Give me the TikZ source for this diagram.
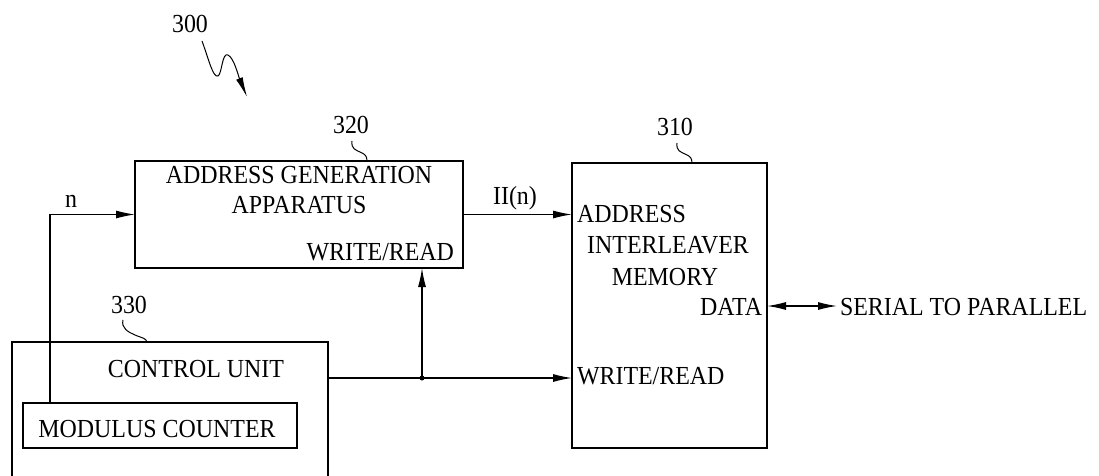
\documentclass[tikz,border=0pt]{standalone}
\usepackage{fontspec}
\setmainfont[FakeStretch=0.92]{Liberation Serif}
\usetikzlibrary{arrows.meta}

\tikzset{
  blk/.style={draw, line width=1.2pt, rectangle, inner sep=0pt, outer sep=0pt, anchor=north west},
  txt/.style={inner sep=0pt, outer sep=0pt, font=\fontsize{26}{30}\selectfont},
  wire/.style={line width=1.2pt},
  arr/.style={wire, -{Latex[length=19pt,width=8pt]}},
  dblarr/.style={wire, {Latex[length=19pt,width=8pt]}-{Latex[length=19pt,width=8pt]}},
  leader/.style={line width=1pt},
}

\begin{document}
\begin{tikzpicture}[x=1pt, y=-1pt]
\useasboundingbox (0,0) rectangle (1099,475);

% blocks
\node[blk, minimum width=328pt, minimum height=107pt] (agen) at (135,161) {};
\node[blk, minimum width=195pt, minimum height=285pt] (mem) at (572,163) {};
\node[blk, minimum width=316pt, minimum height=160pt] (ctrl) at (12,342) {};
\node[blk, minimum width=274pt, minimum height=45pt] (mod) at (23,403) {};

% block texts
\node[txt, anchor=base] (agen1) at (299,183) {ADDRESS GENERATION};
\node[txt, anchor=base] (agen2) at (299,213) {APPARATUS};
\node[txt, anchor=base east] (agenwr) at (454,260) {WRITE/READ};

\node[txt, anchor=base west] (memad) at (577,222) {ADDRESS};
\node[txt, anchor=base] (mem2) at (668,253) {INTERLEAVER};
\node[txt, anchor=base] (mem3) at (665,285) {MEMORY};
\node[txt, anchor=base east] (memdata) at (762,315) {DATA};
\node[txt, anchor=base west] (memwr) at (577,384) {WRITE/READ};

\node[txt, anchor=base] (ctrltxt) at (196,377) {CONTROL UNIT};
\node[txt, anchor=base] (modtxt) at (157,437) {MODULUS COUNTER};

% signal labels
\node[txt, anchor=base] (nlab) at (71,207) {n};
\node[txt, anchor=base] (pilab) at (515,204) {II(n)};
\node[txt, anchor=base west, inner xsep=3pt] (s2p) at (837,315) {SERIAL TO PARALLEL};

% reference numerals
\node[txt, anchor=base] (r300) at (190,32) {300};
\node[txt, anchor=base] (r320) at (351,133) {320};
\node[txt, anchor=base] (r310) at (675,135) {310};
\node[txt, anchor=base] (r330) at (129,313) {330};

% connectors
\coordinate (nleft) at (50,214.5);
\coordinate (j) at (422,378);
\coordinate (dy) at (0,306);

\draw[arr] (mod.north -| nleft) -- (nleft) -- (agen.west);
\draw[arr] (agen.east) -- (agen.east -| mem.west);
\draw[arr] (ctrl.east |- j) -- (mem.west |- j);
\draw[arr] (j) -- (agen.south -| j);
\fill (j) circle (2.5pt);
\draw[dblarr] (mem.east |- dy) -- (s2p.west |- dy);

% leader lines of the numerals
\draw[leader, -{Latex[length=20pt,width=7pt]}]
  (202,41) .. controls (209,60) and (213,78) .. (218,76)
  .. controls (222,74) and (222,52) .. (228,55)
  .. controls (234,58) and (238,75) .. (247,97);
\draw[leader] (352,141) .. controls (351,149) and (356,150) .. (360,152)
  .. controls (365,154) and (367,156) .. (367,161);
\draw[leader] (677,143) .. controls (676,151) and (681,152) .. (685,154)
  .. controls (690,156) and (692,158) .. (692,163);
\draw[leader] (123,320) .. controls (121,328) and (128,332) .. (135,335)
  .. controls (142,338) and (146,338) .. (147,342);
\end{tikzpicture}
\end{document}
